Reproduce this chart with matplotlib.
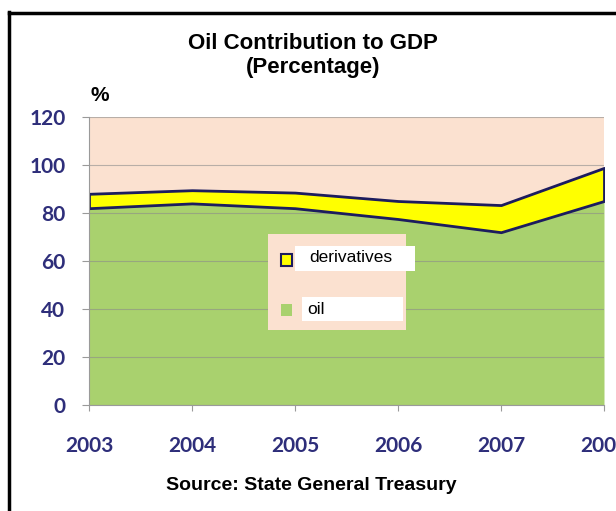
import matplotlib
matplotlib.use("Agg")
import matplotlib.pyplot as plt
from matplotlib.patches import Rectangle
from matplotlib.lines import Line2D
import numpy as np

years = [2003, 2004, 2005, 2006, 2007, 2008]
year_labels = ["2003", "2004", "2005", "2006", "2007", "2008"]
oil = [82, 84, 82, 77.5, 72, 85]
derivatives = [6, 5.5, 6.5, 7.5, 11.3, 13.8]
yticks = [0, 20, 40, 60, 80, 100, 120]

narrow = ["Liberation Sans Narrow", "Liberation Sans", "DejaVu Sans"]
tickfont = ["Lato", "DejaVu Sans"]
navy = "#2E2E7A"

fig = plt.figure(figsize=(6.16, 5.11), dpi=100)
fig.patch.set_facecolor("white")
ax = fig.add_axes([89/616, 1-405/511, (604-89)/616, (405-117)/511])
ax.set_facecolor("#FBE1D0")

total = np.array(oil) + np.array(derivatives)
ax.fill_between(years, 0, oil, color="#A9D16E", lw=0, zorder=2)
ax.fill_between(years, oil, total, facecolor="#FFFF00", edgecolor="#1C1C5E", lw=2, zorder=3)

ax.set_xlim(2003, 2008)
ax.set_ylim(0, 120)
ax.set_yticks(yticks)
ax.set_xticks(years)
ax.set_xticklabels(year_labels)
ax.grid(axis="y", color="#8C8C8C", lw=0.8, alpha=0.6, zorder=2.5)
ax.set_axisbelow(False)
for s in ["top", "right"]:
    ax.spines[s].set_visible(False)
ax.spines["left"].set_color("#9A9A9A")
ax.spines["bottom"].set_color("#9A9A9A")
ax.spines["left"].set_zorder(5)
ax.spines["bottom"].set_zorder(5)
ax.tick_params(axis="y", length=5, color="#9A9A9A", labelcolor=navy, labelsize=15, pad=12)
ax.tick_params(axis="x", length=4, color="#9A9A9A", labelcolor=navy, labelsize=15, pad=18)
for lab in ax.get_yticklabels() + ax.get_xticklabels():
    lab.set_family(tickfont)
    lab.set_fontweight("bold")
for lab in ax.get_xticklabels():
    lab.set_clip_on(False)

# legend
lx0, ly0 = 268/616, 1-330/511
leg_bg = Rectangle((lx0, ly0), (406-268)/616, (330-234)/511, transform=fig.transFigure,
                   facecolor="#FBE1D0", edgecolor="none", zorder=5)
fig.patches.append(leg_bg)
fig.patches.append(Rectangle((295/616, 1-271/511), (415-295)/616, (271-246)/511,
                             transform=fig.transFigure, facecolor="white", edgecolor="none", zorder=6))
fig.patches.append(Rectangle((302/616, 1-321/511), (403-302)/616, (321-297)/511,
                             transform=fig.transFigure, facecolor="white", edgecolor="none", zorder=6))
fig.patches.append(Rectangle((281/616, 1-266/511), 11/616, 12/511, transform=fig.transFigure,
                             facecolor="#FFFF00", edgecolor="#1C1C5E", lw=1.5, zorder=7))
fig.patches.append(Rectangle((281/616, 1-316/511), 11/616, 12/511, transform=fig.transFigure,
                             facecolor="#A9D16E", edgecolor="none", zorder=7))
fig.text(309/616, 1-258/511, "derivatives", fontsize=12.5, family=["Liberation Sans", "DejaVu Sans"],
         va="center", ha="left", zorder=8)
fig.text(307/616, 1-309/511, "oil", fontsize=12.5, family=["Liberation Sans", "DejaVu Sans"],
         va="center", ha="left", zorder=8)

# titles
fig.text(313/616, 1-43/511, "Oil Contribution to GDP", fontsize=16, fontweight="bold",
         family=narrow, ha="center", va="center")
fig.text(313/616, 1-68/511, "(Percentage)", fontsize=16, fontweight="bold",
         family=narrow, ha="center", va="center")
fig.text(100/616, 1-95/511, "%", fontsize=15, fontweight="bold",
         family=narrow, ha="center", va="center")
fig.text(311/616, 1-485/511, "Source: State General Treasury", fontsize=14, fontweight="bold",
         family=narrow, ha="center", va="center")

# frame
fig.add_artist(Line2D([9/616, 9/616], [0, 1-12/511], transform=fig.transFigure, color="black", lw=2.5))
fig.add_artist(Line2D([9/616, 1], [1-13/511, 1-13/511], transform=fig.transFigure, color="black", lw=2.5))

fig.savefig("out.png", dpi=100)
